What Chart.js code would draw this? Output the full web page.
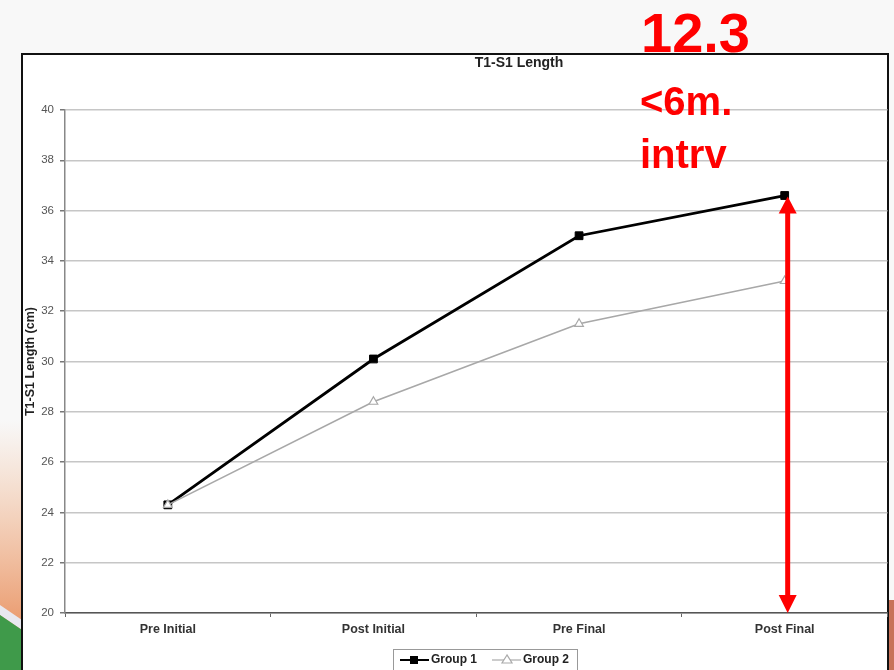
<!DOCTYPE html>
<html>
<head>
<meta charset="utf-8">
<script src="https://cdn.jsdelivr.net/npm/chart.js@4.4.1/dist/chart.umd.min.js"></script>
<style>
  html, body { margin: 0; padding: 0; background: #f8f8f8; }
  #wrap { position: relative; width: 894px; height: 670px; }
</style>
</head>
<body>
<div id="wrap"><canvas id="chart" width="894" height="670"></canvas></div>
<script>
// valores
const categorias = ['Pre Initial', 'Post Initial', 'Pre Final', 'Post Final'];
const grupo1 = [24.3, 30.1, 35.0, 36.6];
const grupo2 = [24.3, 28.4, 31.5, 33.2];
const yTicks = [20, 22, 24, 26, 28, 30, 32, 34, 36, 38, 40];
const notas = ['12.3', '<6m.', 'intrv'];

const FUENTE = '"Liberation Sans", Arial, sans-serif';

// fondo de la diapositiva + marco del gráfico
const fondoPlugin = {
  id: 'fondo',
  beforeDraw(chart) {
    const ctx = chart.ctx;
    ctx.save();
    ctx.fillStyle = '#f8f8f8';
    ctx.fillRect(0, 0, 894, 670);
    // esquina decorativa izquierda
    const g = ctx.createLinearGradient(0, 420, 0, 640);
    g.addColorStop(0, 'rgba(240,170,120,0)');
    g.addColorStop(1, 'rgba(232,140,90,0.95)');
    ctx.fillStyle = g;
    ctx.fillRect(0, 420, 22, 250);
    ctx.fillStyle = '#e8e8f0';
    ctx.beginPath();
    ctx.moveTo(0, 605); ctx.lineTo(22, 620); ctx.lineTo(22, 630); ctx.lineTo(0, 615);
    ctx.fill();
    ctx.fillStyle = '#3f9a4a';
    ctx.beginPath();
    ctx.moveTo(0, 615); ctx.lineTo(22, 630); ctx.lineTo(22, 670); ctx.lineTo(0, 670);
    ctx.fill();
    // borde derecho
    ctx.fillStyle = '#c8735a';
    ctx.fillRect(889, 600, 5, 70);
    // caja blanca
    ctx.fillStyle = '#ffffff';
    ctx.fillRect(22, 54, 866, 620);
    ctx.strokeStyle = '#111';
    ctx.lineWidth = 2;
    ctx.strokeRect(22, 54, 866, 630);
    ctx.restore();
  },
  afterDraw(chart) {
    const ctx = chart.ctx;
    const x = chart.scales.x, y = chart.scales.y;
    ctx.save();
    // título
    ctx.fillStyle = '#222';
    ctx.font = 'bold 14px ' + FUENTE;
    ctx.textAlign = 'center';
    ctx.textBaseline = 'middle';
    ctx.fillText('T1-S1 Length', 519, 63);

    // flecha roja doble
    const ax = x.getPixelForValue(3) + 3;
    const top = y.getPixelForValue(grupo1[3]) + 1;
    const bot = y.getPixelForValue(20);
    ctx.fillStyle = '#ff0000';
    ctx.fillRect(ax - 2.5, top + 14, 5, bot - top - 28);
    ctx.beginPath();
    ctx.moveTo(ax, top); ctx.lineTo(ax - 9, top + 17); ctx.lineTo(ax + 9, top + 17);
    ctx.fill();
    ctx.beginPath();
    ctx.moveTo(ax, bot); ctx.lineTo(ax - 9, bot - 18); ctx.lineTo(ax + 9, bot - 18);
    ctx.fill();

    // notas rojas
    ctx.textAlign = 'left';
    ctx.textBaseline = 'alphabetic';
    ctx.font = 'bold 56px ' + FUENTE;
    ctx.fillText(notas[0], 641, 52);
    ctx.font = 'bold 40px ' + FUENTE;
    ctx.fillText(notas[1], 640, 115);
    ctx.fillText(notas[2], 640, 168);

    // leyenda
    ctx.strokeStyle = '#999';
    ctx.lineWidth = 1;
    ctx.fillStyle = '#fff';
    ctx.fillRect(393, 649, 184, 30);
    ctx.strokeRect(393.5, 649.5, 184, 30);
    ctx.font = 'bold 12px ' + FUENTE;
    ctx.fillStyle = '#222';
    ctx.textBaseline = 'middle';
    const ly = 660;
    ctx.strokeStyle = '#000'; ctx.lineWidth = 2;
    ctx.beginPath(); ctx.moveTo(400, ly); ctx.lineTo(429, ly); ctx.stroke();
    ctx.fillStyle = '#000';
    ctx.fillRect(410, ly - 4, 8, 8);
    ctx.fillStyle = '#222';
    ctx.fillText(chart.data.datasets[0].label, 431, ly);
    ctx.strokeStyle = '#aaa'; ctx.lineWidth = 1.2;
    ctx.beginPath(); ctx.moveTo(492, ly); ctx.lineTo(521, ly); ctx.stroke();
    ctx.fillStyle = '#fff';
    ctx.beginPath(); ctx.moveTo(507, ly - 5); ctx.lineTo(502, ly + 3); ctx.lineTo(512, ly + 3); ctx.closePath();
    ctx.fill(); ctx.stroke();
    ctx.fillStyle = '#222';
    ctx.fillText(chart.data.datasets[1].label, 523, ly);
    ctx.restore();
  }
};

new Chart(document.getElementById('chart'), {
  type: 'line',
  data: {
    labels: categorias,
    datasets: [
      {
        label: 'Group 1',
        data: grupo1,
        borderColor: '#000',
        backgroundColor: '#000',
        borderWidth: 2.8,
        pointStyle: 'rect',
        pointRadius: 5.5,
        pointBorderWidth: 1,
        order: 1
      },
      {
        label: 'Group 2',
        data: grupo2,
        borderColor: '#a8a8a8',
        backgroundColor: '#fff',
        borderWidth: 1.6,
        pointStyle: 'triangle',
        pointRadius: 5,
        pointBorderWidth: 1.2,
        order: 0
      }
    ]
  },
  options: {
    responsive: false,
    animation: false,
    layout: { padding: { top: 110, right: 6, bottom: 0, left: 0 } },
    plugins: {
      legend: { display: false },
      title: { display: false },
      tooltip: { enabled: false }
    },
    scales: {
      x: {
        offset: true,
        afterFit(s) { s.height = 57; },
        grid: { display: true, offset: true, drawOnChartArea: false, tickLength: 4, color: '#666' },
        border: { color: '#555', width: 1.5 },
        ticks: { padding: 5, color: '#333', font: { family: FUENTE, size: 12.5, weight: 'bold' } }
      },
      y: {
        min: 20,
        max: 40,
        afterFit(s) { s.width = 65; },
        afterBuildTicks(s) { s.ticks = yTicks.map(v => ({ value: v })); },
        grid: { color: '#c6c6c6', lineWidth: 1.5, tickLength: 5, tickColor: '#777' },
        border: { color: '#888', width: 1.5 },
        ticks: { padding: 6, color: '#555', font: { family: FUENTE, size: 11.5 } },
        title: {
          display: true,
          text: 'T1-S1 Length (cm)',
          color: '#222',
          padding: { top: 23, bottom: 0 },
          font: { family: FUENTE, size: 12.5, weight: 'bold' }
        }
      }
    }
  },
  plugins: [fondoPlugin]
});
</script>
</body>
</html>
